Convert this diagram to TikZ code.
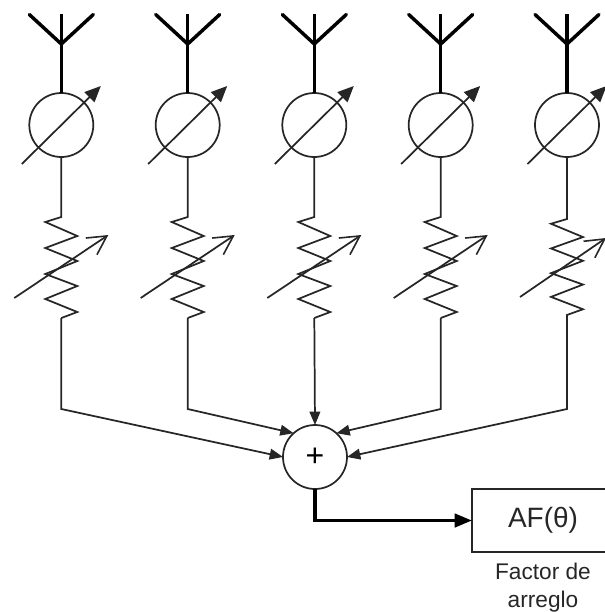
\documentclass[tikz,border=0pt]{standalone}
\usepackage{fontspec}
\setmainfont{Liberation Sans}
\usetikzlibrary{arrows.meta}
\tikzset{
  thinline/.style={line width=1.3pt,draw=black!85},
  thickline/.style={line width=2.6pt,draw=black,line cap=round},
  ring/.style={circle,draw=black!85,line width=1.3pt,fill=none,minimum size=48pt,inner sep=0pt,outer sep=0pt},
  fillhead/.style={-{Triangle[length=10pt,width=8pt]}},
  bighead/.style={-{Triangle[length=12pt,width=10.5pt]}},
  openhead/.style={-{Straight Barb[length=14pt,width=15pt,line width=1.2pt]}},
  label/.style={font=\fontsize{17}{20}\selectfont,inner sep=0pt,text=black!85,anchor=base}
}
\begin{document}
\begin{tikzpicture}[x=0.75pt,y=-0.75pt]
\useasboundingbox (0,0) rectangle (605,612);
\clip (0,0) rectangle (605,612);
\node[ring,font=\fontsize{24}{26}\selectfont] (sum) at (315,457) {\raisebox{-2pt}{+}};
\node[draw=black!85,line width=1.3pt,minimum width=106.5pt,minimum height=47pt,inner sep=0pt,outer sep=0pt,font=\fontsize{21}{24}\selectfont,text=black!85] (af) at (543,520.5) {\raisebox{-2pt}{AF(θ)}};
\node[label] (lab1) at (543,579) {Factor de};
\node[label] (lab2) at (543,607) {arreglo};
\foreach \i/\x/\s/\k/\ray/\rby/\rbx in {1/61.3/217/1/298/235/47,2/187.7/217/1/298/235/47,3/314.3/217/1/298/235/47,4/440.7/217/1/298/235/47,5/567/219/0.95/297/238/39}{
  \begin{scope}[shift={(\x,0)}]
    \coordinate (top\i) at (0,14);
    \coordinate (hub\i) at (0,44);
    \coordinate (tl\i) at (-32,14.5);
    \coordinate (tr\i) at (32,14.5);
    \node[ring] (ph\i) at (0,125) {};
    \coordinate (pa\i) at (-39.5,164);
    \coordinate (pb\i) at (39.5,86);
    \coordinate (za\i) at (0,\s);
    \coordinate (zb\i) at (0,{\s+101*\k});
    \coordinate (ra\i) at (-47,\ray);
    \coordinate (rb\i) at (\rbx,\rby);
    \coordinate (cn\i) at (0,409);
  \end{scope}
  \draw[thickline,line cap=butt] (top\i) -- (hub\i);
  \draw[thickline,line cap=butt] (hub\i) -- (ph\i.north);
  \draw[thickline,line join=miter] (tl\i) -- (hub\i) -- (tr\i);
  \draw[thinline,bighead] (pa\i) -- (pb\i);
  \draw[thinline] (ph\i.south) -- (za\i)
     -- ++(-16,{5*\k}) -- ++(32,{14*\k}) -- ++(-32,{12*\k}) -- ++(32,{13*\k}) -- ++(-32,{13*\k}) -- ++(32,{12*\k}) -- ++(-32,{13*\k}) -- ++(32,{13*\k}) -- ++(-16,{6*\k}) -- (zb\i);
  \draw[thinline,openhead] (ra\i) -- (rb\i);
}
\draw[thinline,fillhead] (zb1) -- (cn1) -- (sum.west);
\draw[thinline,fillhead] (zb2) -- (cn2) -- (sum.132);
\draw[thinline,fillhead] (zb3) -- (sum.north);
\draw[thinline,fillhead] (zb4) -- (cn4) -- (sum.48);
\draw[thinline,fillhead] (zb5) -- (cn5) -- (sum.east);
\draw[thickline,line cap=butt,-{Triangle[length=13pt,width=10pt]}] (sum.south) |- (af.west);
\end{tikzpicture}
\end{document}
